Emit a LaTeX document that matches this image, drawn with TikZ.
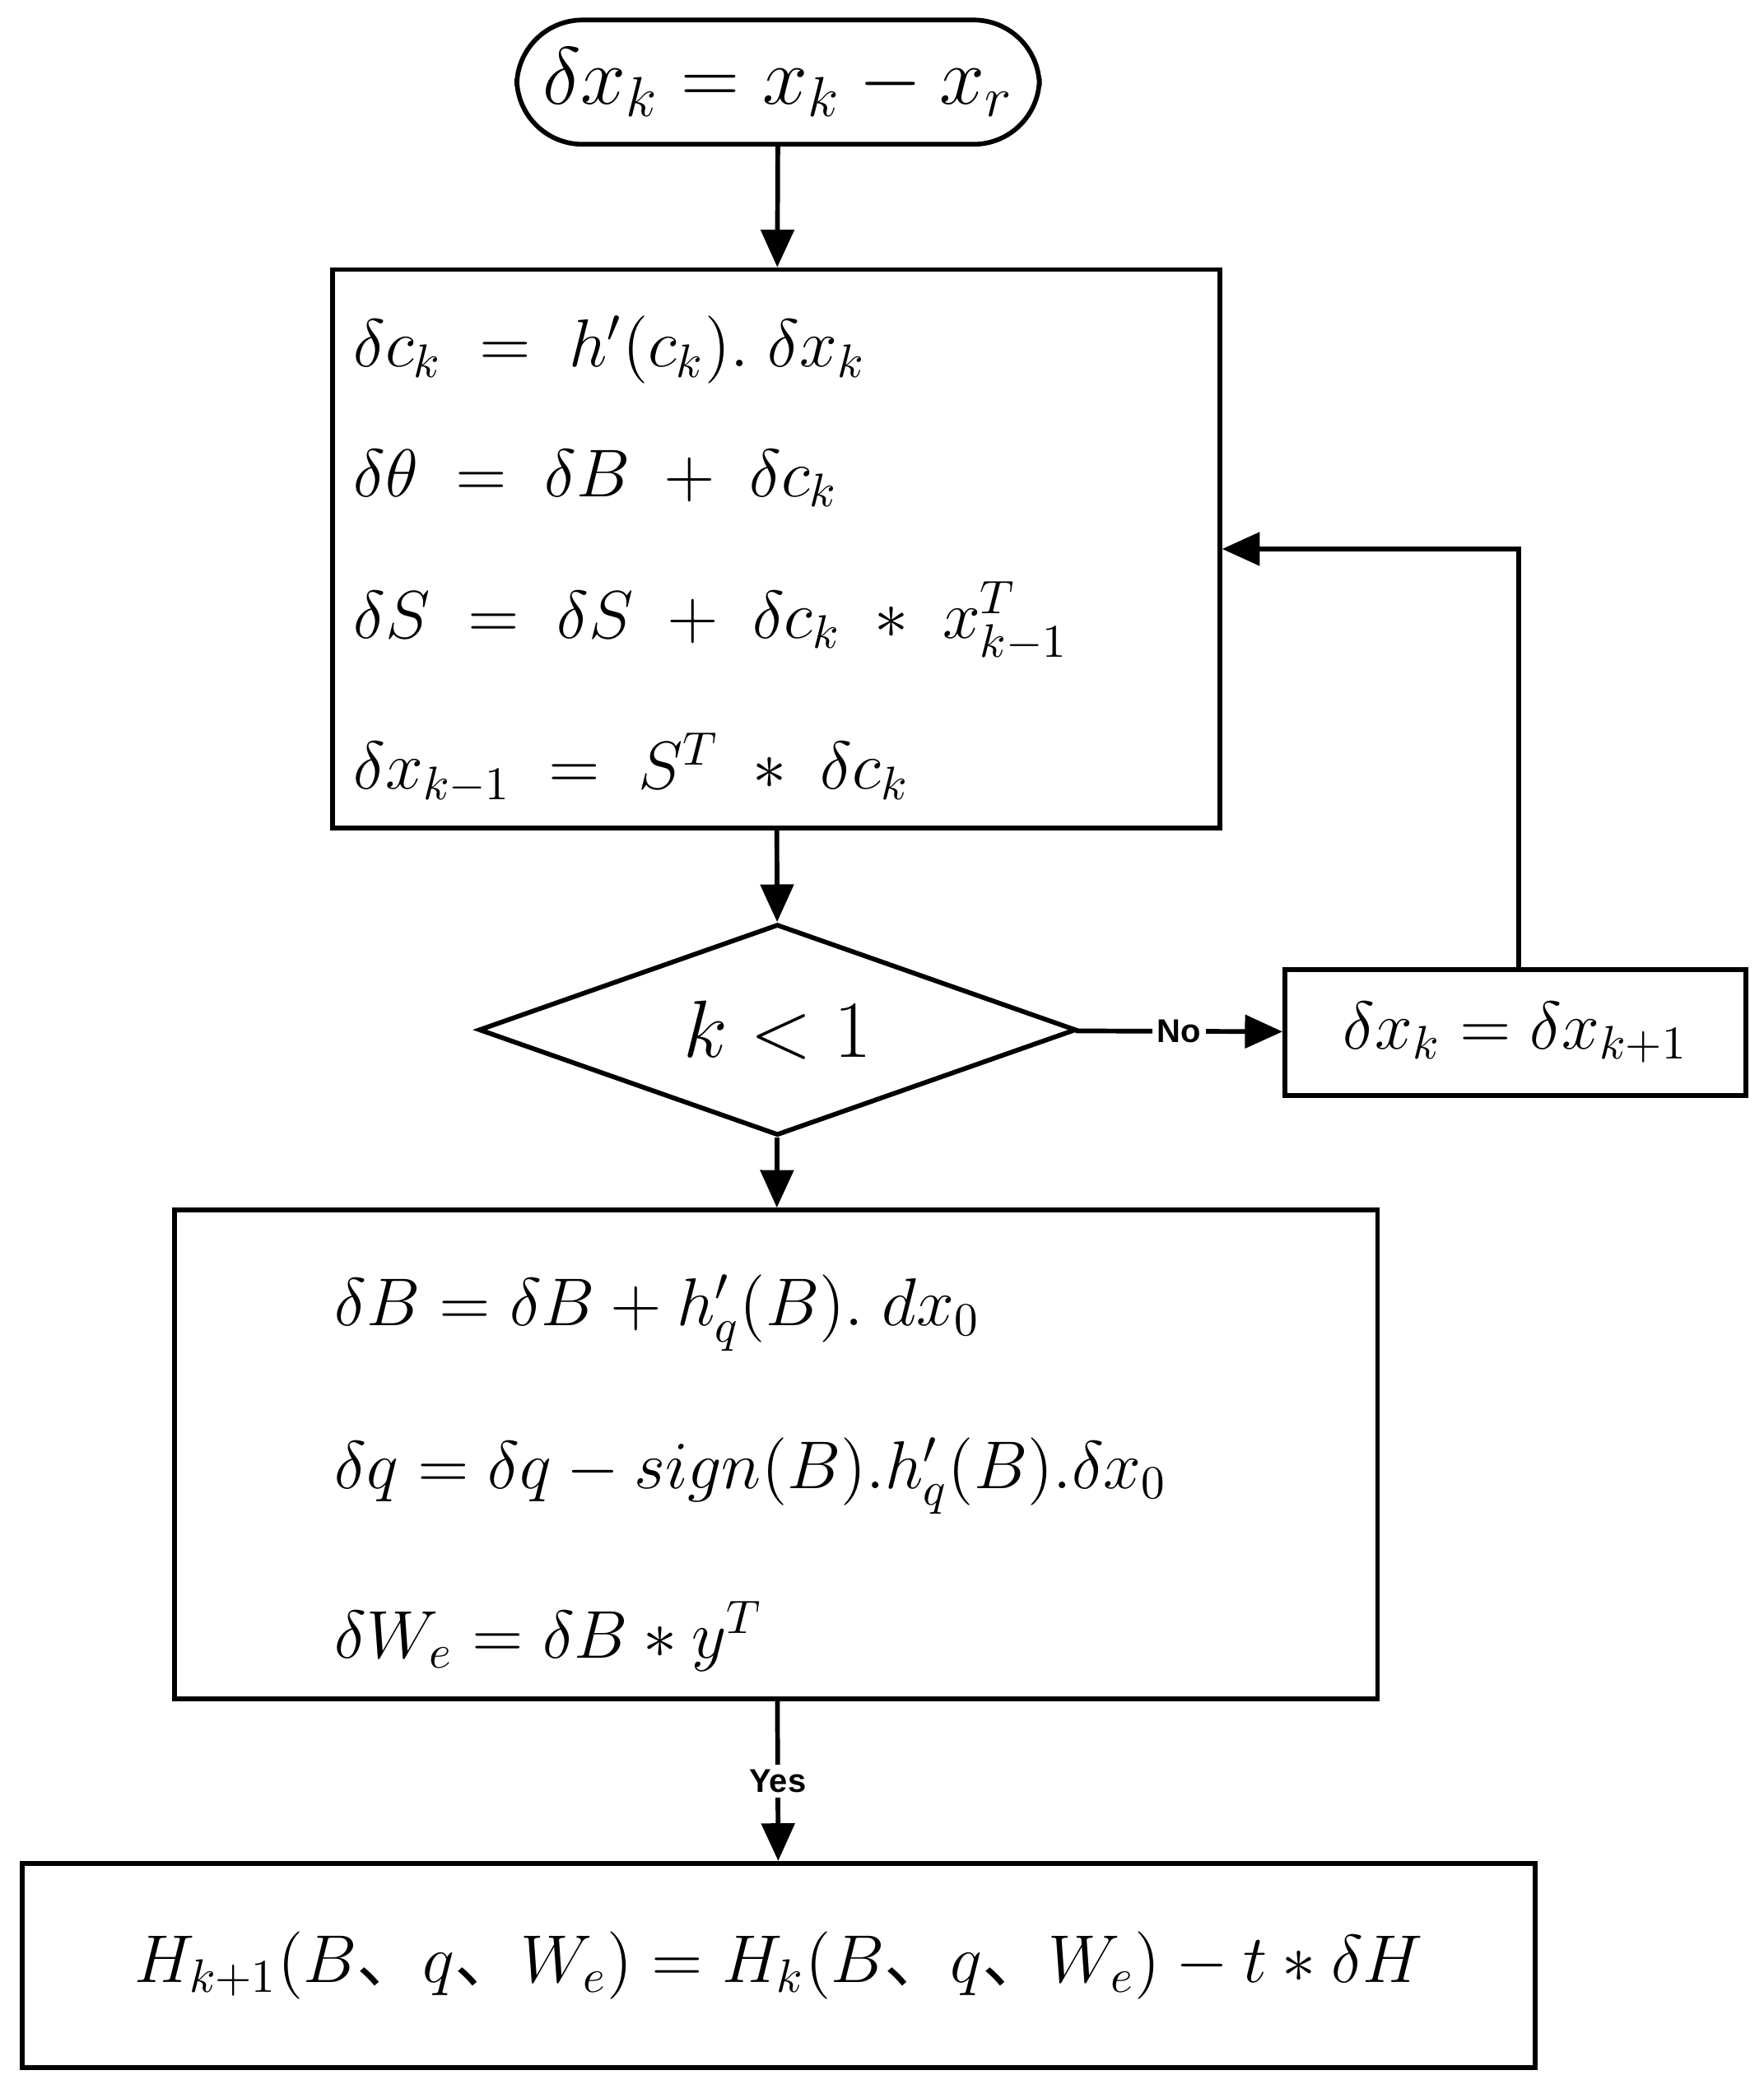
\documentclass[tikz,border=0pt]{standalone}
\usepackage{amsmath}
\usepackage{fontspec}
\setmainfont{Liberation Serif}
\setsansfont{Liberation Sans}
\newfontfamily\cjk{Noto Sans CJK SC}
\usetikzlibrary{arrows.meta,shapes.geometric,positioning}
\newcommand{\dn}{{\cjk 、}}

\begin{document}
\begin{tikzpicture}[x=0.01cm,y=-0.01cm,
  every node/.style={inner sep=0pt},
  box/.style={draw,line width=1pt,rectangle},
  eqn/.style={anchor=west,font=\fontsize{14.5}{17}\selectfont},
  lab/.style={font=\sffamily\bfseries\fontsize{7}{8}\selectfont,fill=white,inner sep=1pt},
  flow/.style={line width=1pt,-{Triangle[length=8pt,width=7pt]}}]
\useasboundingbox (0,0) rectangle (1320,1564);
% start
\node[box,rounded corners=14pt,minimum width=3.91cm,minimum height=0.93cm,
  font=\fontsize{18}{21}\selectfont] (start) at (582.5,61.5) {$\delta x_k = x_k - x_r$};
% backward step
\node[box,minimum width=6.64cm,minimum height=4.18cm] (step) at (581,411) {};
\node[eqn] (e1) at (264,262) {$\delta c_k \;=\; h'(c_k).\;\delta x_k$};
\node[eqn] (e2) at (264,358) {$\delta\theta \;=\; \delta B \;+\; \delta c_k$};
\node[eqn] (e3) at (264,465) {$\delta S \;=\; \delta S \;+\; \delta c_k \;*\; x_{k-1}^{T}$};
\node[eqn] (e4) at (264,575) {$\delta x_{k-1} \;=\; S^{T} \;*\; \delta c_k$};
% test
\node[draw,line width=1pt,diamond,aspect=2.83,minimum width=4.47cm,minimum height=1.58cm,
  font=\fontsize{18}{21}\selectfont] (test) at (582,771) {$k<1$};
\node[box,minimum width=3.45cm,minimum height=0.94cm,
  font=\fontsize{14.5}{17}\selectfont] (shift) at (1134.5,773) {$\delta x_k = \delta x_{k+1}$};
% update
\node[box,minimum width=9.0cm,minimum height=3.66cm] (upd) at (581,1089) {};
\node[eqn] (u1) at (250,983) {$\delta B = \delta B + h_q'(B).\; dx_0$};
\node[eqn] (u2) at (250,1105) {$\delta q = \delta q - sign(B).h_q'(B).\delta x_0$};
\node[eqn] (u3) at (250,1225) {$\delta W_e = \delta B * y^{T}$};
% result
\node[box,minimum width=11.32cm,minimum height=1.53cm,
  font=\fontsize{14}{17}\selectfont] (res) at (583,1471.5)
  {$H_{k+1}(B\text{\dn}q\text{\dn}W_e) = H_k(B\text{\dn}q\text{\dn}W_e) - t * \delta H$};
% connectors
\coordinate (loop) at (1137,411);
\draw[flow] (start) -- (step);
\draw[flow] (step) -- (test);
\draw[flow] (test) -- node[lab] {No} (shift);
\draw[flow] (shift.north -| loop) -- (loop) -- (step.east |- loop);
\draw[flow] (test) -- (upd);
\draw[flow] (upd) -- node[lab] {Yes} (res);
\end{tikzpicture}
\end{document}
